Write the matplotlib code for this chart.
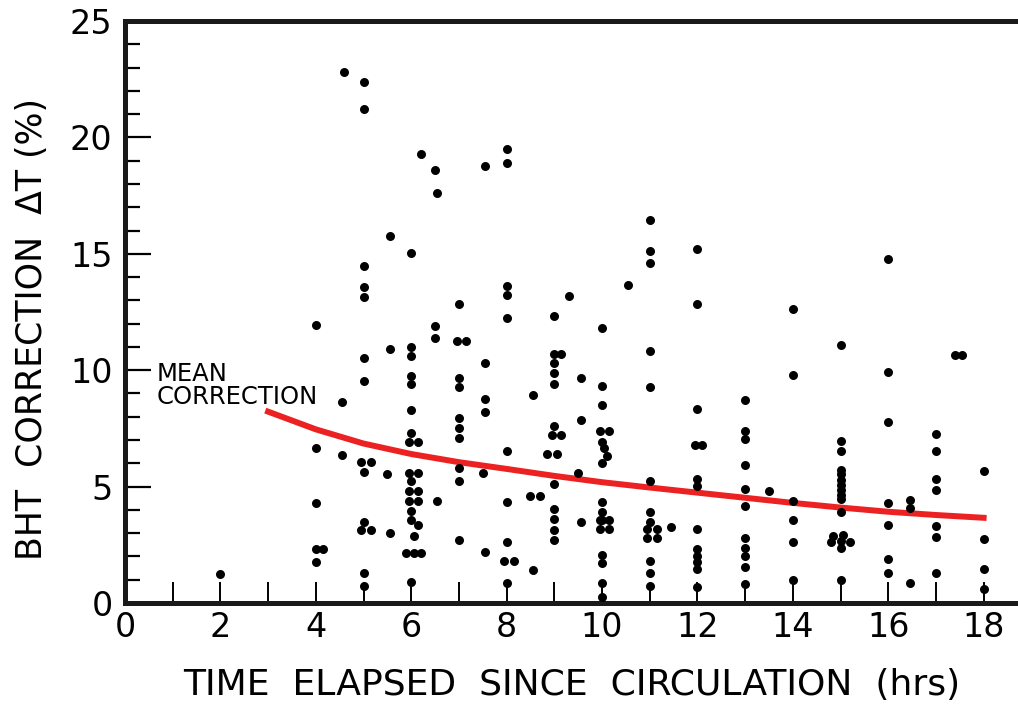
import numpy as np
import matplotlib.pyplot as plt
from matplotlib.ticker import MultipleLocator

# BHT correction data points (time in hrs, correction in %)
time_hrs = [
    2.0,
    4.0, 4.0, 4.0, 4.0, 4.15, 4.0, 4.55, 4.55, 4.6,
    5.0, 5.0, 5.0, 5.0, 5.0, 5.0, 5.0, 4.95, 5.15, 5.0, 5.0, 4.95, 5.15, 5.0, 5.0,
    5.55, 5.55, 5.5, 5.55,
    6.0, 6.0, 6.0, 6.0, 6.0, 6.0, 6.0, 5.95, 6.15, 5.95, 6.15, 6.0, 5.95, 6.15,
    5.95, 6.15, 6.0, 6.0, 6.15, 6.05, 5.9, 6.05, 6.2, 6.0,
    6.2, 6.5, 6.55, 6.5, 6.5, 6.55,
    7.0, 6.95, 7.15, 7.0, 7.0, 7.0, 7.0, 7.0, 7.0, 7.0, 7.0,
    7.55, 7.55, 7.55, 7.55, 7.5, 7.55,
    8.0, 8.0, 8.0, 8.0, 8.0, 8.0, 8.0, 8.0, 7.95, 8.15, 8.0,
    8.55, 8.5, 8.7, 8.55, 8.85,
    9.0, 9.0, 9.15, 9.0, 9.0, 9.0, 9.0, 8.95, 9.15, 9.05, 9.0, 9.0, 9.0, 9.0, 9.0,
    9.3, 9.55, 9.55, 9.5, 9.55,
    10.0, 10.0, 10.0, 9.95, 10.15, 10.0, 10.05, 10.1, 10.0, 10.0, 10.0, 10.0,
    9.95, 10.15, 9.95, 10.15, 10.0, 10.0, 10.0, 10.0,
    10.55,
    11.0, 11.0, 11.0, 11.0, 11.0, 11.0, 11.0, 11.0, 10.95, 11.15, 10.95, 11.15,
    11.0, 11.0, 11.0, 11.45,
    12.0, 12.0, 12.0, 11.95, 12.1, 12.0, 12.0, 12.0, 12.0, 12.0, 12.0, 12.0, 12.0,
    13.0, 13.0, 13.0, 13.0, 13.0, 13.0, 13.0, 13.0, 13.0, 13.0, 13.0, 13.5,
    14.0, 14.0, 14.0, 14.0, 14.0, 14.0,
    15.0, 15.0, 15.0, 15.0, 15.0, 15.0, 15.0, 15.0, 15.0, 15.0, 15.0,
    14.85, 15.05, 14.8, 15.0, 15.2, 15.0, 15.0,
    16.0, 16.0, 16.0, 16.0, 16.0, 16.0, 16.0, 16.45, 16.45, 16.45,
    17.0, 17.0, 17.0, 17.0, 17.0, 17.0, 17.0, 17.4, 17.55,
    18.0, 18.0, 18.0, 18.0,
]
bht_corr = [
    1.25,
    11.95, 6.67, 4.3, 2.33, 2.33, 1.74, 8.65, 6.37, 22.8,
    22.4, 21.2, 14.47, 13.59, 13.16, 10.54, 9.53, 6.05, 6.05, 5.63, 3.5, 3.12, 3.12, 1.31, 0.75,
    15.78, 10.9, 5.53, 3.0,
    15.04, 11.0, 10.6, 9.77, 9.41, 8.28, 7.31, 6.9, 6.9, 5.58, 5.58, 5.22, 4.8, 4.8,
    4.4, 4.4, 3.94, 3.58, 3.36, 2.86, 2.14, 2.14, 2.14, 0.9,
    19.27, 18.58, 17.6, 11.88, 11.39, 4.4,
    12.86, 11.26, 11.26, 9.65, 9.28, 7.96, 7.51, 7.08, 5.8, 5.26, 2.69,
    18.78, 10.3, 8.75, 8.2, 5.59, 2.18,
    19.5, 18.9, 13.62, 13.25, 12.25, 6.52, 4.32, 2.64, 1.81, 1.81, 0.88,
    8.92, 4.58, 4.58, 1.42, 6.4,
    12.31, 10.68, 10.68, 10.33, 9.9, 9.4, 7.59, 7.2, 7.2, 6.4, 5.13, 4.04, 3.62, 3.12, 2.69,
    13.19, 9.65, 7.87, 5.59, 3.46,
    11.8, 9.3, 8.5, 7.38, 7.38, 6.9, 6.65, 6.31, 6.0, 4.32, 3.93, 3.58,
    3.58, 3.58, 3.17, 3.17, 2.07, 1.71, 0.85, 0.27,
    13.66,
    16.44, 15.13, 14.61, 10.82, 9.27, 5.26, 3.89, 3.5, 3.18, 3.18, 2.8, 2.8,
    1.8, 1.28, 0.73, 3.27,
    15.19, 12.86, 8.32, 6.8, 6.8, 5.33, 5.01, 3.2, 2.31, 2.0, 1.78, 1.45, 0.68,
    8.73, 7.38, 7.03, 5.92, 4.9, 4.15, 2.81, 2.36, 2.0, 1.56, 0.82, 4.83,
    12.63, 9.81, 4.4, 3.58, 2.64, 0.99,
    11.09, 6.95, 6.55, 5.73, 5.52, 5.3, 5.09, 4.87, 4.66, 4.48, 3.89,
    2.86, 2.92, 2.62, 2.65, 2.62, 2.36, 0.99,
    14.77, 9.94, 7.77, 4.31, 3.36, 1.87, 1.28, 4.41, 4.08, 0.85,
    7.24, 6.52, 5.34, 4.87, 3.32, 2.84, 1.31, 10.66, 10.66,
    5.65, 2.74, 1.47, 0.59,
]

# mean correction curve
mean_t = [3, 4, 5, 6, 7, 8, 9, 10, 11, 12, 13, 14, 15, 16, 17, 18]
mean_corr = [8.22, 7.46, 6.85, 6.40, 6.05, 5.76, 5.46, 5.19, 4.96, 4.74, 4.52, 4.30, 4.10, 3.92, 3.78, 3.66]

W, H = 1018, 705
fig = plt.figure(figsize=(W / 100, H / 100), dpi=100)
ax = fig.add_axes([125 / W, 102 / H, (W - 125) / W, 582 / H])

ax.scatter(time_hrs, bht_corr, s=42, color='black', zorder=3, linewidths=0)
ax.plot(mean_t, mean_corr, color='#ec2222', lw=4.3, zorder=2)

ax.set_xlim(0, (W - 125) / 47.7)
ax.set_ylim(0, 25)

ax.xaxis.set_major_locator(MultipleLocator(2))
ax.xaxis.set_minor_locator(MultipleLocator(1))
ax.yaxis.set_major_locator(MultipleLocator(5))
ax.yaxis.set_minor_locator(MultipleLocator(1))

ax.tick_params(axis='x', which='both', direction='in', length=15, width=1.4,
               labelsize=24, pad=6, color='black', top=False)
ax.tick_params(axis='y', which='major', direction='in', length=19, width=1.6,
               labelsize=24, pad=9, right=False)
ax.tick_params(axis='y', which='minor', direction='in', length=11, width=1.6, right=False)

for side in ['left', 'bottom', 'top']:
    ax.spines[side].set_linewidth(3.6)
    ax.spines[side].set_color('#1a1a1a')
ax.spines['right'].set_visible(False)

ax.set_xlabel('TIME  ELAPSED  SINCE  CIRCULATION  (hrs)', fontsize=26, labelpad=17)
ax.set_ylabel('BHT  CORRECTION  ΔT (%)', fontsize=25)
ax.yaxis.set_label_coords(-0.085, 0.47)

ax.text(0.67, 8.35, 'MEAN\nCORRECTION', fontsize=17.5, va='bottom', ha='left', linespacing=0.95)

fig.savefig('out.png', dpi=100)
